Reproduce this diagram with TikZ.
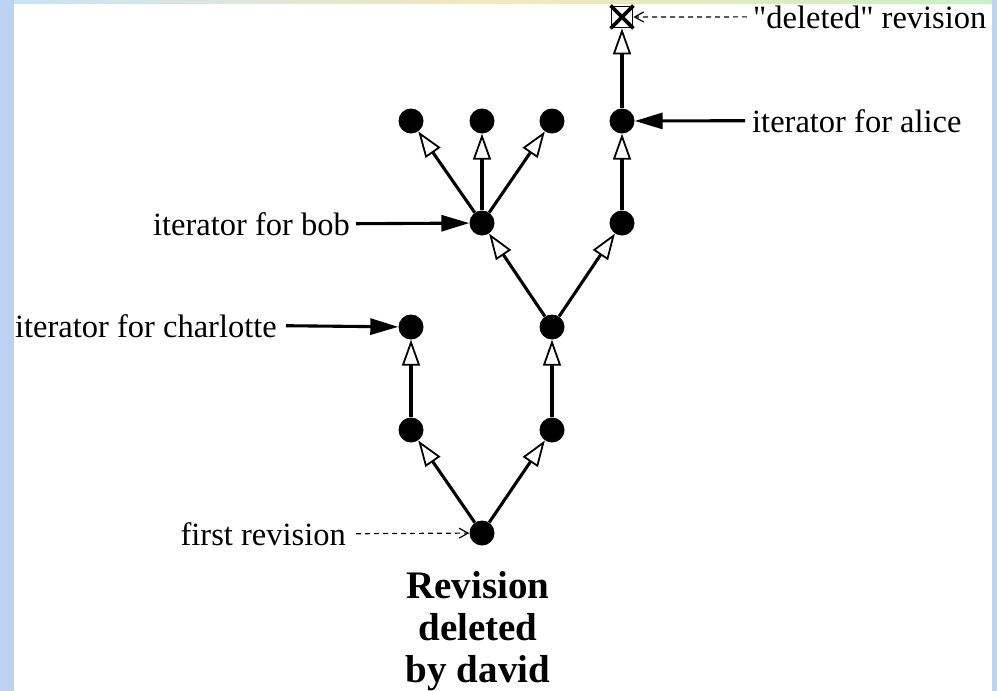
\documentclass[tikz,border=0pt]{standalone}
\usepackage{fontspec}
\setmainfont{Liberation Serif}[Ligatures=TeXOff]
\usetikzlibrary{arrows.meta}
\definecolor{frameblue}{HTML}{BCD2F2}
\definecolor{stripa}{HTML}{C8E4F8}
\definecolor{stripb}{HTML}{F4E8B8}
\definecolor{stripc}{HTML}{C8F0C8}
\tikzset{
  rev/.style={circle,fill=black,minimum size=25pt,inner sep=0pt},
  edge/.style={line width=3.1pt,-{Triangle[open,length=26pt,width=18pt,line width=1.8pt,fill=white]}},
  pointer/.style={line width=3.1pt,-{Triangle[length=28pt,width=16pt]}},
  note/.style={line width=1.2pt,dash pattern=on 5pt off 4pt,-{Straight Barb[length=9pt,width=10pt,line width=1.2pt]}},
  lbl/.style={font=\fontsize{32.5}{36}\selectfont,inner sep=0pt},
  title/.style={font=\fontsize{39}{42}\selectfont\bfseries,align=center,inner sep=0pt},
}
\begin{document}
\begin{tikzpicture}[x=1pt,y=-1pt]
  % page frame: blue textured border with a coloured top strip
  \fill[frameblue] (0,0) rectangle (997,691);
  \shade[left color=stripa,right color=stripc,middle color=stripb] (14,0) rectangle (992,4);
  \fill[white] (14,4) rectangle (992,691);
  \useasboundingbox (0,0) rectangle (997,691);

  % revisions
  \node[rev] (first) at (482,533) {};
  \node[rev] (l1) at (411,430) {};
  \node[rev] (r1) at (552,430) {};
  \node[rev] (charlotte) at (411,327) {};
  \node[rev] (r2) at (552,327) {};
  \node[rev] (bob) at (482,223) {};
  \node[rev] (r3) at (622,223) {};
  \node[rev] (b1) at (411,121) {};
  \node[rev] (b2) at (482,121) {};
  \node[rev] (b3) at (552,121) {};
  \node[rev] (alice) at (622,121) {};
  \node[draw,line width=1.8pt,minimum size=21pt,inner sep=0pt] (gone) at (622,17) {};
  \draw[line width=3.6pt] (gone.north west) -- (gone.south east) (gone.north east) -- (gone.south west);

  % parent -> child links
  \draw[edge] (first) -- (l1);
  \draw[edge] (first) -- (r1);
  \draw[edge] (l1) -- (charlotte);
  \draw[edge] (r1) -- (r2);
  \draw[edge] (r2) -- (bob);
  \draw[edge] (r2) -- (r3);
  \draw[edge] (bob) -- (b1);
  \draw[edge] (bob) -- (b2);
  \draw[edge] (bob) -- (b3);
  \draw[edge] (r3) -- (alice);
  \draw[edge] (alice) -- (gone.south);

  % labels
  \node[lbl,anchor=base west] (tdel) at (753,28) {"deleted" revision};
  \node[lbl,anchor=base west] (talice) at (752,132) {iterator for alice};
  \node[lbl,anchor=base east] (tbob) at (350,235) {iterator for bob};
  \node[lbl,anchor=base east] (tcharlotte) at (277,337) {iterator for charlotte};
  \node[lbl,anchor=base east] (tfirst) at (346,545) {first revision};

  \draw[note] ([xshift=-6pt]tdel.west) -- (gone.east);
  \draw[pointer] ([xshift=-7pt]talice.west) -- (alice);
  \draw[pointer] ([xshift=6pt]tbob.east) -- (bob);
  \draw[pointer] ([xshift=9pt]tcharlotte.east) -- (charlotte);
  \draw[note] ([xshift=10pt]tfirst.east) -- (first);

  \node[title,anchor=base] (caption) at (478,682) {Revision\\deleted\\by david};
\end{tikzpicture}
\end{document}
